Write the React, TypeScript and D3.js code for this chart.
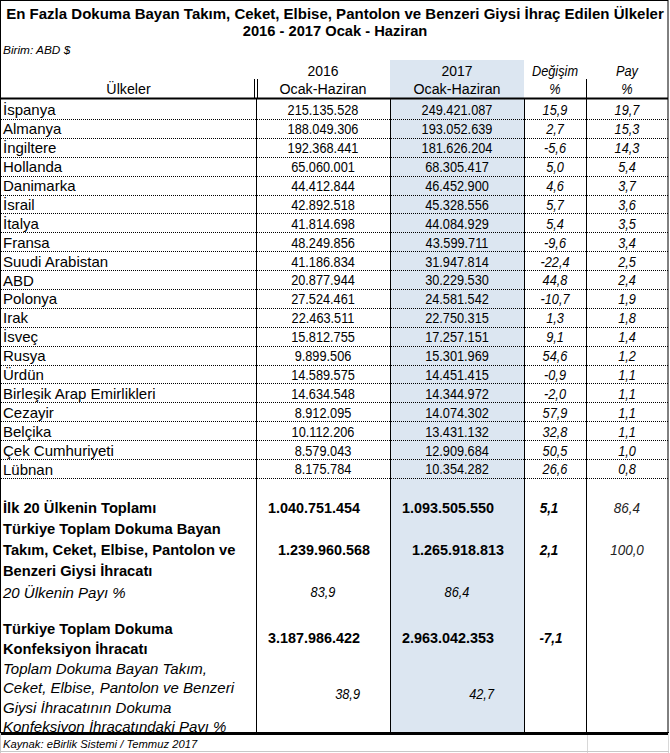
import React from "react";
import * as d3 from "d3";

const titleLines = [
  "En Fazla Dokuma Bayan Takım, Ceket, Elbise, Pantolon ve Benzeri Giysi İhraç Edilen Ülkeler",
  "2016 - 2017 Ocak - Haziran",
];
const unitLabel = "Birim: ABD $";
const sourceLabel = "Kaynak: eBirlik Sistemi / Temmuz 2017";

const countries = [
  "İspanya", "Almanya", "İngiltere", "Hollanda", "Danimarka", "İsrail", "İtalya", "Fransa",
  "Suudi Arabistan", "ABD", "Polonya", "Irak", "İsveç", "Rusya", "Ürdün",
  "Birleşik Arap Emirlikleri", "Cezayir", "Belçika", "Çek Cumhuriyeti", "Lübnan",
];
const exports2016 = [
  215135528, 188049306, 192368441, 65060001, 44412844, 42892518, 41814698, 48249856,
  41186834, 20877944, 27524461, 22463511, 15812755, 9899506, 14589575, 14634548,
  8912095, 10112206, 8579043, 8175784,
];
const exports2017 = [
  249421087, 193052639, 181626204, 68305417, 46452900, 45328556, 44084929, 43599711,
  31947814, 30229530, 24581542, 22750315, 17257151, 15301969, 14451415, 14344972,
  14074302, 13431132, 12909684, 10354282,
];
const changePct = [
  15.9, 2.7, -5.6, 5.0, 4.6, 5.7, 5.4, -9.6, -22.4, 44.8, -10.7, 1.3, 9.1, 54.6, -0.9,
  -2.0, 57.9, 32.8, 50.5, 26.6,
];
const sharePct = [
  19.7, 15.3, 14.3, 5.4, 3.7, 3.6, 3.5, 3.4, 2.5, 2.4, 1.9, 1.8, 1.4, 1.2, 1.1, 1.1, 1.1,
  1.1, 1.0, 0.8,
];

const top20Total = [1040751454, 1093505550];
const top20Change = 5.1;
const top20Share = 86.4;
const turkeyTotal = [1239960568, 1265918813];
const turkeyChange = 2.1;
const turkeyShare = 100.0;
const top20SharePct = [83.9, 86.4];
const confTotal = [3187986422, 2963042353];
const confChange = -7.1;
const confSharePct = [38.9, 42.7];

const top20Label = ["İlk 20 Ülkenin Toplamı"];
const turkeyLabel = ["Türkiye Toplam Dokuma Bayan", "Takım, Ceket, Elbise, Pantolon ve", "Benzeri Giysi İhracatı"];
const top20ShareLabel = ["20 Ülkenin Payı %"];
const confLabel = ["Türkiye Toplam Dokuma", "Konfeksiyon İhracatı"];
const confShareLabel = [
  "Toplam Dokuma Bayan Takım,",
  "Ceket, Elbise, Pantolon ve Benzeri",
  "Giysi İhracatının Dokuma",
  "Konfeksiyon İhracatındaki Payı %",
];

const locale = d3.formatLocale({
  decimal: ",",
  thousands: ".",
  grouping: [3],
  currency: ["", "$"],
  minus: "-",
});
const fmtInt = locale.format(",d");
const fmtPct = locale.format(".1f");

const FONT = "'Liberation Sans', Arial, sans-serif";
const W = 670;
const H = 753;

// column edges
const cx = { left: 1, c1: 256, c2: 390, c3: 524, c4: 586, right: 668 };
const mid = (a: number, b: number) => (a + b) / 2;

type TProps = {
  x: number;
  y: number;
  children: React.ReactNode;
  size?: number;
  sx?: number;
  anchor?: "start" | "middle" | "end";
  bold?: boolean;
  italic?: boolean;
  fill?: string;
};
const T = ({ x, y, children, size = 15, sx = 1, anchor = "start", bold, italic, fill = "#000" }: TProps) => (
  <text
    transform={`translate(${x},${y}) scale(${sx},1)`}
    fontFamily={FONT}
    fontSize={size}
    fontWeight={bold ? "bold" : "normal"}
    fontStyle={italic ? "italic" : "normal"}
    textAnchor={anchor}
    dominantBaseline="central"
    fill={fill}
  >
    {children}
  </text>
);

export default function App() {
  const rowTop = 100;
  const rowBottom = 478;
  const y = d3.scaleBand<string>().domain(countries).range([rowTop, rowBottom]).paddingInner(0).paddingOuter(0);
  const bw = y.bandwidth();
  const tableBottom = 733;
  const numSx = 0.85;
  const boldLabelSx = 0.98;

  const labelLine = d3.scaleLinear().domain([0, 1]).range([0, 21]);

  return (
    <div style={{ position: "absolute", left: 0, top: 0 }}>
      <svg width={W} height={H} style={{ display: "block", background: "#fff" }}>
        {/* shaded 2017 column */}
        <rect x={cx.c2} y={60} width={cx.c3 - cx.c2} height={tableBottom - 60} fill="#dce6f1" />

        {/* titles */}
        <T x={W / 2} y={13} anchor="middle" bold size={15} sx={1.0}>{titleLines[0]}</T>
        <T x={W / 2} y={31} anchor="middle" bold size={15} sx={0.98}>{titleLines[1]}</T>
        <T x={3} y={50} italic size={11.5} sx={1.03}>{unitLabel}</T>

        {/* header */}
        <T x={mid(cx.left, cx.c1)} y={89} anchor="middle" sx={0.95}>Ülkeler</T>
        <T x={mid(cx.c1, cx.c2)} y={71} anchor="middle" sx={0.93}>2016</T>
        <T x={mid(cx.c1, cx.c2)} y={89} anchor="middle" sx={0.95}>Ocak-Haziran</T>
        <T x={mid(cx.c2, cx.c3)} y={71} anchor="middle" sx={0.93}>2017</T>
        <T x={mid(cx.c2, cx.c3)} y={89} anchor="middle" sx={0.95}>Ocak-Haziran</T>
        <T x={mid(cx.c3, cx.c4)} y={71} anchor="middle" italic sx={0.85}>Değişim</T>
        <T x={mid(cx.c3, cx.c4)} y={89} anchor="middle" italic sx={0.85}>%</T>
        <T x={mid(cx.c4, cx.right)} y={71} anchor="middle" italic sx={0.85}>Pay</T>
        <T x={mid(cx.c4, cx.right)} y={89} anchor="middle" italic sx={0.85}>%</T>

        {/* header lines */}
        <line x1={cx.c1 - 1.5} x2={cx.c1 - 1.5} y1={79} y2={98} stroke="#000" />
        <line x1={cx.c1 + 1.5} x2={cx.c1 + 1.5} y1={79} y2={98} stroke="#000" />
        <line x1={cx.c4 + 0.5} x2={cx.c4 + 0.5} y1={79} y2={98} stroke="#000" />
        <line x1={cx.left} x2={cx.right} y1={98.5} y2={98.5} stroke="#000" strokeWidth={2} />

        {/* data rows */}
        {countries.map((c, i) => {
          const yc = (y(c) as number) + bw / 2 + 0.5;
          return (
            <g key={c}>
              <T x={3} y={yc}>{c}</T>
              <T x={mid(cx.c1, cx.c2)} y={yc} anchor="middle" sx={numSx}>{fmtInt(exports2016[i])}</T>
              <T x={mid(cx.c2, cx.c3)} y={yc} anchor="middle" sx={numSx}>{fmtInt(exports2017[i])}</T>
              <T x={mid(cx.c3, cx.c4)} y={yc} anchor="middle" italic sx={numSx}>{fmtPct(changePct[i])}</T>
              <T x={mid(cx.c4, cx.right)} y={yc} anchor="middle" italic sx={numSx}>{fmtPct(sharePct[i])}</T>
              <line
                x1={cx.left}
                x2={cx.right}
                y1={Math.round((y(c) as number) + bw) + 0.5}
                y2={Math.round((y(c) as number) + bw) + 0.5}
                stroke="#000"
                strokeDasharray="1 1"
              />
            </g>
          );
        })}

        {/* summary block */}
        {top20Label.map((s, i) => (
          <T key={s} x={3} y={508 + labelLine(i)} bold sx={boldLabelSx}>{s}</T>
        ))}
        <T x={360} y={508} anchor="end" bold sx={0.96}>{fmtInt(top20Total[0])}</T>
        <T x={494} y={508} anchor="end" bold sx={0.96}>{fmtInt(top20Total[1])}</T>
        <T x={549} y={508} anchor="middle" bold italic sx={0.9}>{fmtPct(top20Change)}</T>
        <T x={627} y={508} anchor="middle" italic sx={0.9} fill="#222">{fmtPct(top20Share)}</T>

        {turkeyLabel.map((s, i) => (
          <T key={s} x={3} y={529 + labelLine(i)} bold sx={boldLabelSx}>{s}</T>
        ))}
        <T x={370} y={550} anchor="end" bold sx={0.96}>{fmtInt(turkeyTotal[0])}</T>
        <T x={504} y={550} anchor="end" bold sx={0.96}>{fmtInt(turkeyTotal[1])}</T>
        <T x={549} y={550} anchor="middle" bold italic sx={0.9}>{fmtPct(turkeyChange)}</T>
        <T x={627} y={550} anchor="middle" italic sx={0.9} fill="#222">{fmtPct(turkeyShare)}</T>

        {top20ShareLabel.map((s, i) => (
          <T key={s} x={3} y={592 + labelLine(i)} italic>{s}</T>
        ))}
        <T x={mid(cx.c1, cx.c2)} y={592} anchor="middle" italic sx={numSx}>{fmtPct(top20SharePct[0])}</T>
        <T x={mid(cx.c2, cx.c3)} y={592} anchor="middle" italic sx={numSx}>{fmtPct(top20SharePct[1])}</T>

        {confLabel.map((s, i) => (
          <T key={s} x={3} y={629 + i * 19.5} bold sx={boldLabelSx}>{s}</T>
        ))}
        <T x={360} y={638} anchor="end" bold sx={0.96}>{fmtInt(confTotal[0])}</T>
        <T x={494} y={638} anchor="end" bold sx={0.96}>{fmtInt(confTotal[1])}</T>
        <T x={551} y={638} anchor="middle" bold italic sx={0.9}>{fmtPct(confChange)}</T>

        {confShareLabel.map((s, i) => (
          <T key={s} x={3} y={668 + i * 19.5} italic>{s}</T>
        ))}
        <T x={360} y={694} anchor="end" italic sx={numSx}>{fmtPct(confSharePct[0])}</T>
        <T x={494} y={694} anchor="end" italic sx={numSx}>{fmtPct(confSharePct[1])}</T>

        {/* vertical lines */}
        {[cx.c1, cx.c2, cx.c3, cx.c4].map((x) => (
          <line key={x} x1={x + 0.5} x2={x + 0.5} y1={99} y2={tableBottom} stroke="#000" />
        ))}

        {/* outer frame */}
        <rect x={0.5} y={0.5} width={cx.right - 0.5} height={tableBottom - 0.5} fill="none" stroke="#000" />
        <line x1={0} x2={cx.right + 1} y1={tableBottom + 0.5} y2={tableBottom + 0.5} stroke="#000" strokeWidth={3} />

        {/* footer */}
        <line x1={0.5} x2={0.5} y1={tableBottom} y2={H} stroke="#c8c8c8" />
        <line x1={cx.c4 + 1.5} x2={cx.c4 + 1.5} y1={tableBottom + 2} y2={H} stroke="#d8d8d8" />
        <line x1={cx.right + 0.5} x2={cx.right + 0.5} y1={tableBottom} y2={H} stroke="#d8d8d8" />
        <line x1={0} x2={cx.right + 1} y1={H - 1.5} y2={H - 1.5} stroke="#c8c8c8" />
        <T x={3} y={744} italic size={11} sx={1.02}>{sourceLabel}</T>
      </svg>
    </div>
  );
}
